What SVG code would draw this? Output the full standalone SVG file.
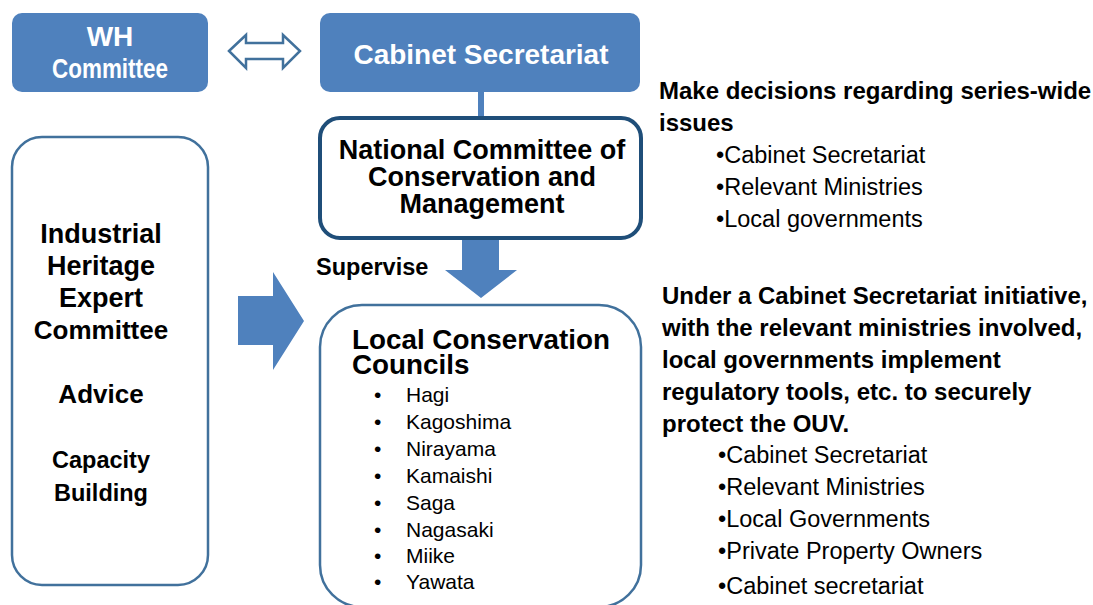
<svg xmlns="http://www.w3.org/2000/svg" width="1093" height="605" viewBox="0 0 1093 605">
<style>
.b{font-family:"Liberation Sans",Arial,sans-serif;font-weight:bold;fill:#000}
.r{font-family:"Liberation Sans",Arial,sans-serif;fill:#000}
.w{font-family:"Liberation Sans",Arial,sans-serif;font-weight:bold;fill:#fff}
.blue{fill:#4F81BD}
.outline{fill:#fff;stroke:#41719C;stroke-width:2.5}
</style>
<rect width="1093" height="605" fill="#fff"/>
<g id="connectors">
  <line x1="481" y1="92" x2="481" y2="118" stroke="#4F81BD" stroke-width="6"/>
  <polygon points="229,51 246,35 246,43 283,43 283,35 300,51 283,68 283,59 246,59 246,68" fill="#fff" stroke="#41719C" stroke-width="2.5" stroke-linejoin="miter"/>
  <polygon class="blue" points="462,238 499,238 499,270 517,270 481,298 445,270 462,270"/>
  <polygon class="blue" points="238,296 273,296 273,272 304,321 273,370 273,345 238,345"/>
</g>
<g id="wh-committee">
  <rect x="12" y="13" width="196" height="79" rx="10" class="blue"/>
  <text class="w" font-size="28" text-anchor="middle" x="110" y="46">WH</text>
  <text class="w" font-size="28" text-anchor="middle" x="110" y="78" textLength="116" lengthAdjust="spacingAndGlyphs">Committee</text>
</g>
<g id="cabinet-secretariat">
  <rect x="320" y="13" width="320" height="79" rx="10" class="blue"/>
  <text class="w" font-size="27" text-anchor="middle" x="481" y="64" textLength="255" lengthAdjust="spacingAndGlyphs">Cabinet Secretariat</text>
</g>
<g id="national-committee">
  <rect x="320" y="118" width="321" height="120" rx="20" fill="#fff" stroke="#1F4E79" stroke-width="4"/>
  <text class="b" font-size="27" text-anchor="middle"><tspan x="482" y="159">National Committee of</tspan><tspan x="482" dy="27">Conservation and</tspan><tspan x="482" dy="27">Management</tspan></text>
</g>
<text class="b" font-size="23.5" x="316" y="275">Supervise</text>
<g id="expert-committee">
  <rect x="12" y="137" width="196" height="448" rx="30" class="outline"/>
  <text class="b" font-size="27" text-anchor="middle"><tspan x="101" y="243">Industrial</tspan><tspan x="101" dy="32">Heritage</tspan><tspan x="101" dy="32">Expert</tspan><tspan x="101" dy="32" font-size="26">Committee</tspan></text>
  <text class="b" font-size="26" text-anchor="middle" x="101" y="403">Advice</text>
  <text class="b" font-size="23.5" text-anchor="middle"><tspan x="101" y="468">Capacity</tspan><tspan x="101" dy="33">Building</tspan></text>
</g>
<g id="local-councils">
  <rect x="320" y="305" width="321" height="302" rx="42" class="outline"/>
  <text class="b" font-size="27.8"><tspan x="352" y="349">Local Conservation</tspan><tspan x="352" dy="25">Councils</tspan></text>
  <g class="r" font-size="21">
    <text x="374" y="402">•</text><text x="406" y="402">Hagi</text>
    <text x="374" y="429">•</text><text x="406" y="429">Kagoshima</text>
    <text x="374" y="456">•</text><text x="406" y="456">Nirayama</text>
    <text x="374" y="483">•</text><text x="406" y="483">Kamaishi</text>
    <text x="374" y="510">•</text><text x="406" y="510">Saga</text>
    <text x="374" y="537">•</text><text x="406" y="537">Nagasaki</text>
    <text x="374" y="563">•</text><text x="406" y="563">Miike</text>
    <text x="374" y="589">•</text><text x="406" y="589">Yawata</text>
  </g>
</g>
<g id="national-notes">
  <text class="b" font-size="24" x="659" y="99">Make decisions regarding series-wide</text>
  <text class="b" font-size="24" x="659" y="131">issues</text>
  <text class="r" font-size="23.5" x="716" y="163">•Cabinet Secretariat</text>
  <text class="r" font-size="23.5" x="716" y="195">•Relevant Ministries</text>
  <text class="r" font-size="23.5" x="716" y="227">•Local governments</text>
</g>
<g id="local-notes">
  <text class="b" font-size="24" x="662" y="304">Under a Cabinet Secretariat initiative,</text>
  <text class="b" font-size="24" x="662" y="336">with the relevant ministries involved,</text>
  <text class="b" font-size="24" x="662" y="368">local governments implement</text>
  <text class="b" font-size="24" x="662" y="400">regulatory tools, etc. to securely</text>
  <text class="b" font-size="24" x="662" y="432">protect the OUV.</text>
  <text class="r" font-size="23.5" x="718" y="463">•Cabinet Secretariat</text>
  <text class="r" font-size="23.5" x="718" y="495">•Relevant Ministries</text>
  <text class="r" font-size="23.5" x="718" y="527">•Local Governments</text>
  <text class="r" font-size="23.5" x="718" y="559">•Private Property Owners</text>
  <text class="r" font-size="23.5" x="718" y="594">•Cabinet secretariat</text>
</g>
</svg>
